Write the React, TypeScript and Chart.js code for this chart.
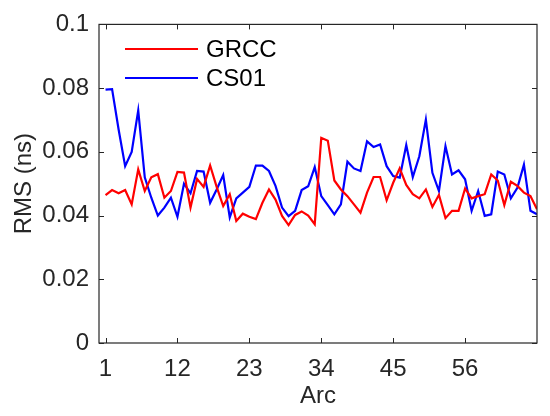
import React, { useEffect, useRef } from "react";
import { Chart, registerables } from "chart.js";

Chart.register(...registerables);

const arcs: number[] = Array.from({ length: 67 }, (_, i) => i + 1);

const grcc: number[] = [
  0.0464, 0.048, 0.047, 0.048, 0.0435, 0.0545, 0.0477, 0.052, 0.053, 0.0456,
  0.0477, 0.0537, 0.0535, 0.0425, 0.0515, 0.049, 0.0557, 0.049, 0.043, 0.0467,
  0.0383, 0.0406, 0.0396, 0.0389, 0.044, 0.0482, 0.045, 0.0399, 0.037, 0.0402,
  0.0413, 0.04, 0.0373, 0.0644, 0.0635, 0.051, 0.0482, 0.0461, 0.0435, 0.0409,
  0.0472, 0.0521, 0.0521, 0.0448, 0.0503, 0.0548, 0.0496, 0.0467, 0.0454, 0.0482,
  0.0427, 0.0465, 0.0392, 0.0415, 0.0415, 0.0485, 0.0454, 0.0461, 0.0467, 0.0529,
  0.051, 0.0433, 0.0506, 0.0493, 0.0472, 0.0461, 0.042,
];

const cs01: number[] = [
  0.0795, 0.0797, 0.067, 0.0555, 0.06, 0.073, 0.052, 0.0456, 0.04, 0.0425,
  0.0456, 0.0396, 0.05, 0.047, 0.054, 0.0538, 0.044, 0.0482, 0.0527, 0.0394,
  0.0454, 0.0472, 0.049, 0.0557, 0.0557, 0.054, 0.0493, 0.0425, 0.0398, 0.0415,
  0.048, 0.0492, 0.0552, 0.0461, 0.0433, 0.0404, 0.0435, 0.0569, 0.0548, 0.054,
  0.0633, 0.0615, 0.0623, 0.0555, 0.0524, 0.0519, 0.0621, 0.0521, 0.0586, 0.0701,
  0.0534, 0.0477, 0.0618, 0.0529, 0.0542, 0.0514, 0.0415, 0.0477, 0.0399, 0.0404,
  0.0538, 0.0529, 0.0454, 0.0487, 0.056, 0.0415, 0.0404,
];

const xTicks: number[] = [1, 12, 23, 34, 45, 56];
const yTicks: number[] = [0, 0.02, 0.04, 0.06, 0.08, 0.1];
const yTickLabels: string[] = ["0", "0.02", "0.04", "0.06", "0.08", "0.1"];
const seriesNames: string[] = ["GRCC", "CS01"];
const seriesColors: string[] = ["#ff0000", "#0000ff"];

const FONT = "Liberation Sans, Arial, sans-serif";
const FONT_SIZE = 24;
const AXIS_COLOR = "#262626";

const frameAndTicks = {
  id: "frameAndTicks",
  afterDraw(chart: any) {
    const { ctx, chartArea } = chart;
    const { left, right, top, bottom } = chartArea;
    const xs = chart.scales.x;
    const ys = chart.scales.y;
    const len = 5;
    ctx.save();
    ctx.strokeStyle = AXIS_COLOR;
    ctx.lineWidth = 1;
    ctx.beginPath();
    xTicks.forEach((v) => {
      const px = Math.round(xs.getPixelForValue(v)) + 0.5;
      ctx.moveTo(px, bottom);
      ctx.lineTo(px, bottom - len);
      ctx.moveTo(px, top);
      ctx.lineTo(px, top + len);
    });
    yTicks.forEach((v) => {
      const py = Math.round(ys.getPixelForValue(v)) + 0.5;
      ctx.moveTo(left, py);
      ctx.lineTo(left + len, py);
      ctx.moveTo(right, py);
      ctx.lineTo(right - len, py);
    });
    ctx.stroke();
    ctx.lineWidth = 1.2;
    ctx.strokeRect(left, top, right - left, bottom - top);
    // legend
    ctx.font = `${FONT_SIZE}px ${FONT}`;
    ctx.textBaseline = "middle";
    ctx.textAlign = "left";
    const rows = [49, 78];
    seriesNames.forEach((name, i) => {
      const y = rows[i];
      ctx.strokeStyle = seriesColors[i];
      ctx.lineWidth = 2;
      ctx.beginPath();
      ctx.moveTo(125, y);
      ctx.lineTo(198, y);
      ctx.stroke();
      ctx.fillStyle = "#000000";
      ctx.fillText(name, 206, y + 1);
    });
    ctx.restore();
  },
};

export default function App() {
  const ref = useRef<HTMLCanvasElement | null>(null);

  useEffect(() => {
    document.body.style.margin = "0";
    const canvas = ref.current;
    if (!canvas) return;
    const chart = new Chart(canvas, {
      type: "line",
      data: {
        datasets: [
          {
            label: seriesNames[0],
            data: arcs.map((a, i) => ({ x: a, y: grcc[i] })),
            borderColor: seriesColors[0],
            borderWidth: 2.2,
            pointRadius: 0,
            tension: 0,
            fill: false,
          },
          {
            label: seriesNames[1],
            data: arcs.map((a, i) => ({ x: a, y: cs01[i] })),
            borderColor: seriesColors[1],
            borderWidth: 2.2,
            pointRadius: 0,
            tension: 0,
            fill: false,
          },
        ],
      },
      plugins: [frameAndTicks],
      options: {
        animation: false,
        responsive: false,
        devicePixelRatio: 1,
        layout: { padding: { top: 23, right: 13, bottom: 0, left: 0 } },
        plugins: {
          legend: { display: false },
          tooltip: { enabled: false },
        },
        scales: {
          x: {
            type: "linear",
            min: 0,
            max: 67,
            afterFit: (s: any) => {
              s.height = 73;
            },
            afterBuildTicks: (s: any) => {
              s.ticks = xTicks.map((v) => ({ value: v }));
            },
            grid: { display: false, drawTicks: false },
            border: { display: false },
            ticks: {
              autoSkip: false,
              maxRotation: 0,
              padding: 12,
              color: AXIS_COLOR,
              font: { family: FONT, size: FONT_SIZE },
              callback: (v: any) => String(v),
            },
            title: {
              display: true,
              text: "Arc",
              color: AXIS_COLOR,
              font: { family: FONT, size: FONT_SIZE },
              padding: { top: 0, bottom: 5 },
            },
          },
          y: {
            type: "linear",
            min: 0,
            max: 0.1,
            afterFit: (s: any) => {
              s.width = 99;
            },
            afterBuildTicks: (s: any) => {
              s.ticks = yTicks.map((v) => ({ value: v }));
            },
            grid: { display: false, drawTicks: false },
            border: { display: false },
            ticks: {
              padding: 10,
              color: AXIS_COLOR,
              font: { family: FONT, size: FONT_SIZE },
              callback: (v: any) => {
                const i = yTicks.findIndex((t) => Math.abs(t - v) < 1e-9);
                return i >= 0 ? yTickLabels[i] : "";
              },
            },
            title: {
              display: true,
              text: "RMS (ns)",
              color: AXIS_COLOR,
              font: { family: FONT, size: FONT_SIZE },
              padding: { top: 10, bottom: 0 },
            },
          },
        },
      },
    });
    return () => chart.destroy();
  }, []);

  return (
    <div style={{ position: "fixed", left: 0, top: 0, width: 550, height: 416, background: "#fff" }}>
      <canvas ref={ref} width={550} height={416} style={{ width: 550, height: 416 }} />
    </div>
  );
}
